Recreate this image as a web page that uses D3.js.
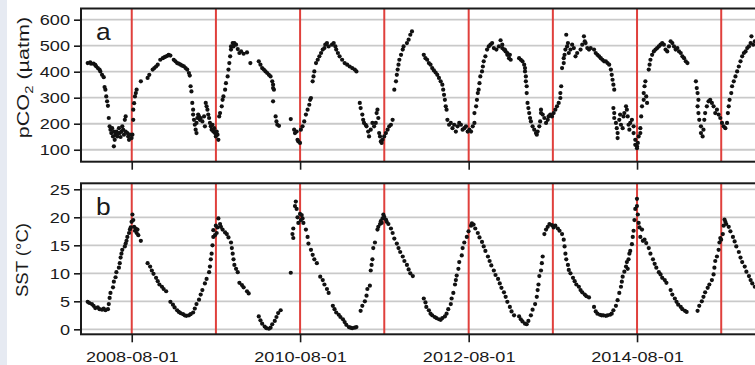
<!DOCTYPE html>
<html>
<head>
<meta charset="utf-8">
<script src="https://cdn.jsdelivr.net/npm/d3@7"></script>
<style>
  body { margin: 0; background: #fff; }
  text { font-family: "Liberation Sans", Arial, sans-serif; fill: #1a1a1a; }
</style>
</head>
<body>
<svg id="chart" width="755" height="365"></svg>
<script>
// pCO2 (µatm) samples: [decimal year, value]
const pco2 = [
  [2008.06,433],[2008.09,436],[2008.10,431],[2008.13,431],[2008.15,426],[2008.16,421],[2008.18,414],[2008.20,408],
  [2008.21,401],[2008.23,388],[2008.25,379],[2008.26,341],[2008.27,331],[2008.28,305],[2008.29,286],[2008.30,269],
  [2008.31,222],[2008.32,190],[2008.33,177],[2008.34,164],[2008.35,183],[2008.36,151],[2008.37,113],[2008.37,170],
  [2008.38,138],[2008.39,158],[2008.40,170],[2008.41,151],[2008.42,164],[2008.43,183],[2008.44,164],[2008.45,149],
  [2008.46,170],[2008.47,190],[2008.48,177],[2008.49,158],[2008.50,215],[2008.51,228],[2008.51,170],[2008.53,164],
  [2008.54,151],[2008.55,138],[2008.56,158],[2008.58,145],[2008.59,158],[2008.60,215],[2008.60,254],[2008.61,279],
  [2008.62,305],[2008.63,318],[2008.64,331],[2008.69,363],[2008.77,376],[2008.79,388],[2008.83,408],[2008.85,414],
  [2008.87,420],[2008.89,427],[2008.92,446],[2008.95,452],[2008.97,456],[2008.99,459],[2009.01,462],[2009.02,465],
  [2009.04,462],[2009.08,446],[2009.10,440],[2009.12,433],[2009.14,431],[2009.16,427],[2009.18,423],[2009.20,421],
  [2009.22,414],[2009.24,408],[2009.26,395],[2009.27,385],[2009.28,344],[2009.29,324],[2009.30,280],[2009.31,254],
  [2009.31,235],[2009.32,215],[2009.33,196],[2009.34,177],[2009.35,164],[2009.35,203],[2009.36,222],[2009.37,235],
  [2009.38,228],[2009.39,215],[2009.40,222],[2009.42,209],[2009.44,228],[2009.45,190],[2009.46,280],[2009.47,267],
  [2009.48,254],[2009.49,235],[2009.50,222],[2009.51,203],[2009.52,190],[2009.53,177],[2009.54,196],[2009.55,170],
  [2009.56,183],[2009.57,164],[2009.58,151],[2009.59,170],[2009.60,158],[2009.61,138],[2009.62,228],[2009.63,241],
  [2009.65,267],[2009.66,292],[2009.67,305],[2009.69,331],[2009.70,356],[2009.72,382],[2009.73,408],[2009.74,433],
  [2009.75,459],[2009.76,485],[2009.76,497],[2009.78,510],[2009.79,497],[2009.80,510],[2009.82,504],[2009.84,487],
  [2009.86,472],[2009.88,478],[2009.91,469],[2009.95,474],[2009.99,433],
  [2010.09,440],[2010.11,427],[2010.13,414],[2010.15,408],[2010.17,401],[2010.19,395],[2010.21,388],[2010.23,382],
  [2010.25,363],[2010.26,350],[2010.26,337],[2010.27,331],[2010.26,286],[2010.29,228],[2010.30,209],[2010.31,196],
  [2010.33,192],[2010.47,218],[2010.51,177],[2010.52,164],[2010.54,170],[2010.55,138],[2010.56,132],[2010.58,126],
  [2010.59,177],[2010.61,190],[2010.63,209],[2010.65,235],[2010.67,254],[2010.69,273],[2010.70,292],[2010.71,299],
  [2010.73,363],[2010.74,382],[2010.75,401],[2010.77,433],[2010.79,446],[2010.81,459],[2010.83,472],[2010.85,485],
  [2010.87,491],[2010.88,504],[2010.90,510],[2010.92,497],[2010.96,504],[2010.98,510],[2011.00,497],[2011.01,485],
  [2011.03,472],[2011.05,459],[2011.08,446],[2011.11,433],[2011.14,427],[2011.17,420],[2011.20,414],[2011.23,408],
  [2011.25,401],[2011.29,280],[2011.30,260],[2011.32,235],[2011.33,215],[2011.34,203],[2011.36,196],[2011.37,190],
  [2011.39,170],[2011.40,151],[2011.42,177],[2011.44,203],[2011.46,190],[2011.48,203],[2011.49,241],[2011.50,254],
  [2011.51,222],[2011.52,164],[2011.53,151],[2011.54,132],[2011.55,126],[2011.56,138],[2011.58,151],[2011.60,164],
  [2011.62,177],[2011.64,190],[2011.66,196],[2011.68,215],[2011.70,331],[2011.72,363],[2011.73,388],[2011.74,408],
  [2011.75,427],[2011.76,446],[2011.78,465],[2011.80,485],[2011.81,497],[2011.85,510],[2011.87,523],[2011.89,542],
  [2011.91,555],
  [2012.05,465],[2012.07,452],[2012.09,446],[2012.11,433],[2012.13,427],[2012.15,414],[2012.17,405],[2012.19,397],
  [2012.21,388],[2012.23,376],[2012.25,363],[2012.27,350],[2012.28,331],[2012.29,311],[2012.30,292],[2012.31,267],
  [2012.32,254],[2012.33,215],[2012.35,196],[2012.37,203],[2012.39,183],[2012.41,196],[2012.43,170],[2012.45,190],
  [2012.47,203],[2012.49,196],[2012.51,177],[2012.53,183],[2012.55,190],[2012.57,170],[2012.59,177],[2012.61,170],
  [2012.63,190],[2012.65,203],[2012.65,241],[2012.67,267],[2012.68,292],[2012.69,318],[2012.70,331],[2012.71,356],
  [2012.72,382],[2012.74,401],[2012.75,420],[2012.76,440],[2012.78,459],[2012.80,485],[2012.82,497],[2012.84,504],
  [2012.86,510],[2012.88,491],[2012.91,485],[2012.94,497],[2012.96,521],[2012.98,491],[2012.98,504],[2013.00,485],
  [2013.01,485],[2013.02,478],[2013.04,472],[2013.04,465],[2013.06,452],[2013.07,465],[2013.08,446],
  [2013.18,452],[2013.20,446],[2013.22,440],[2013.24,427],[2013.25,414],[2013.25,401],[2013.26,382],[2013.26,363],
  [2013.27,344],[2013.27,318],[2013.28,280],[2013.29,260],[2013.30,241],[2013.31,222],[2013.32,209],[2013.34,190],
  [2013.36,177],[2013.38,164],[2013.39,158],[2013.40,170],[2013.42,190],[2013.43,209],[2013.44,241],[2013.44,254],
  [2013.46,235],[2013.48,222],[2013.50,203],[2013.52,215],[2013.53,228],[2013.55,235],[2013.57,228],[2013.59,241],
  [2013.61,254],[2013.63,267],[2013.65,280],[2013.67,299],[2013.67,318],[2013.68,344],[2013.69,414],[2013.71,433],
  [2013.71,452],[2013.72,465],[2013.73,485],[2013.74,542],[2013.75,497],[2013.76,510],[2013.77,472],[2013.79,485],
  [2013.81,504],[2013.83,491],[2013.85,459],[2013.87,472],[2013.91,485],[2013.93,504],[2013.95,536],[2013.96,517],
  [2013.97,510],[2013.99,491],[2014.01,485],[2014.03,491],[2014.07,485],[2014.09,472],[2014.11,465],[2014.13,459],
  [2014.15,452],[2014.17,446],[2014.19,440],[2014.21,440],[2014.23,433],[2014.25,427],[2014.27,408],[2014.28,388],
  [2014.29,369],[2014.30,350],[2014.31,331],[2014.30,260],[2014.31,241],[2014.31,222],[2014.33,203],[2014.34,183],
  [2014.35,164],[2014.35,145],[2014.37,215],[2014.38,235],[2014.39,196],[2014.41,183],[2014.42,228],[2014.43,241],
  [2014.45,267],[2014.46,254],[2014.47,228],[2014.48,196],[2014.49,177],[2014.50,203],[2014.52,215],[2014.54,190],
  [2014.54,164],[2014.56,138],[2014.56,119],[2014.58,106],[2014.58,113],[2014.59,126],[2014.60,151],[2014.62,164],
  [2014.62,183],[2014.63,228],[2014.64,267],[2014.66,292],[2014.66,318],[2014.67,344],[2014.68,363],[2014.69,305],
  [2014.70,280],[2014.72,408],[2014.73,427],[2014.74,446],[2014.76,465],[2014.78,478],[2014.80,485],[2014.82,491],
  [2014.84,497],[2014.86,504],[2014.88,510],[2014.90,504],[2014.92,485],[2014.94,478],[2014.96,497],[2014.98,517],
  [2015.00,510],[2015.02,497],[2015.04,485],[2015.06,491],[2015.08,478],[2015.10,472],[2015.12,459],[2015.14,452],
  [2015.16,440],[2015.18,433],
  [2015.28,363],[2015.29,337],[2015.30,318],[2015.31,292],[2015.30,267],[2015.31,241],[2015.32,215],[2015.34,190],
  [2015.34,164],[2015.36,151],[2015.37,177],[2015.38,215],[2015.39,241],[2015.41,267],[2015.43,286],[2015.45,292],
  [2015.47,280],[2015.49,267],[2015.51,241],[2015.53,254],[2015.55,235],[2015.57,222],[2015.59,203],[2015.61,190],
  [2015.63,183],[2015.65,203],[2015.66,241],[2015.67,267],[2015.68,292],[2015.70,318],[2015.71,344],[2015.73,363],
  [2015.75,382],[2015.77,401],[2015.79,420],[2015.81,440],[2015.83,459],[2015.85,472],[2015.87,478],[2015.89,491],
  [2015.91,497],[2015.93,510],[2015.94,536],[2015.96,504],[2015.98,517]
];

// SST (°C) samples: [decimal year, value]
const sst = [
  [2008.06,4.9],[2008.08,4.7],[2008.11,4.5],[2008.13,4.2],[2008.15,3.8],[2008.18,3.9],[2008.20,3.6],[2008.23,3.5],
  [2008.25,3.7],[2008.27,3.4],[2008.30,3.6],[2008.31,4.5],[2008.32,5.6],[2008.33,6.5],[2008.36,7.5],[2008.37,8.5],
  [2008.39,9.3],[2008.40,10.2],[2008.43,11.0],[2008.44,11.8],[2008.45,12.8],[2008.46,13.5],[2008.47,14.2],[2008.50,14.8],
  [2008.51,15.3],[2008.52,15.8],[2008.53,16.5],[2008.55,17.2],[2008.56,17.8],[2008.57,18.2],[2008.58,19.2],[2008.59,20.5],
  [2008.60,19.5],[2008.61,18.3],[2008.62,17.6],[2008.63,18.0],[2008.64,17.2],[2008.65,17.8],[2008.66,16.8],[2008.69,15.8],
  [2008.77,11.8],[2008.80,11.2],[2008.82,10.5],[2008.84,9.9],[2008.87,9.2],[2008.89,8.6],[2008.91,8.0],[2008.94,7.6],
  [2008.96,7.2],[2008.99,6.8],
  [2009.04,4.9],[2009.07,4.4],[2009.09,3.9],[2009.12,3.4],[2009.14,3.1],[2009.16,2.9],[2009.19,2.7],[2009.21,2.5],
  [2009.23,2.4],[2009.26,2.5],[2009.28,2.7],[2009.31,3.0],[2009.33,3.7],[2009.35,4.5],[2009.38,5.3],[2009.40,6.2],
  [2009.42,7.0],[2009.45,8.2],[2009.47,9.0],[2009.50,10.2],[2009.51,11.2],[2009.52,12.5],[2009.53,13.5],[2009.54,15.0],
  [2009.55,16.5],[2009.55,17.7],[2009.57,16.8],[2009.58,18.5],[2009.59,17.2],[2009.60,18.2],[2009.61,19.8],[2009.63,18.8],
  [2009.64,18.3],[2009.66,17.8],[2009.69,17.3],[2009.71,17.0],[2009.73,16.4],[2009.76,15.5],[2009.77,14.5],[2009.78,13.5],
  [2009.79,12.5],[2009.80,11.5],[2009.82,10.8],[2009.84,10.2],
  [2009.86,8.3],[2009.89,7.9],[2009.91,7.5],[2009.95,6.8],[2009.97,6.4],
  [2010.09,2.3],[2010.11,1.6],[2010.13,1.0],[2010.16,0.5],[2010.18,0.2],[2010.21,0.1],[2010.23,0.3],[2010.25,0.9],
  [2010.28,1.5],[2010.30,2.2],[2010.32,2.9],[2010.35,3.4],
  [2010.47,10.1],[2010.49,17.0],[2010.50,16.3],[2010.50,18.0],[2010.52,22.0],[2010.53,22.8],[2010.54,21.5],[2010.55,20.0],
  [2010.56,19.0],[2010.58,20.6],[2010.59,19.5],[2010.60,20.4],[2010.61,19.8],[2010.62,19.0],[2010.65,17.8],[2010.67,16.5],
  [2010.68,15.3],[2010.71,14.2],[2010.73,13.3],[2010.75,12.5],[2010.78,11.8],
  [2010.82,9.4],[2010.85,8.8],[2010.87,8.0],[2010.90,7.2],[2010.92,6.5],
  [2010.97,4.2],[2010.99,3.6],[2011.01,3.0],[2011.04,2.6],[2011.06,2.2],[2011.09,1.8],[2011.11,1.3],[2011.13,0.8],
  [2011.16,0.4],[2011.18,0.3],[2011.20,0.2],[2011.23,0.3],[2011.25,0.4],
  [2011.30,3.3],[2011.32,4.2],[2011.35,5.0],[2011.37,6.0],[2011.38,7.2],[2011.41,7.8],[2011.42,10.5],[2011.43,11.5],
  [2011.44,12.5],[2011.45,14.5],[2011.47,15.5],
  [2011.50,17.8],[2011.51,18.3],[2011.53,18.8],[2011.54,19.3],[2011.55,19.0],[2011.56,19.8],[2011.57,20.5],[2011.58,20.1],
  [2011.60,19.6],[2011.61,19.2],[2011.63,18.8],[2011.66,18.0],[2011.68,17.2],[2011.70,16.2],[2011.73,15.3],[2011.75,14.5],
  [2011.77,13.8],[2011.80,13.0],[2011.82,12.2],[2011.85,11.5],[2011.87,10.7],[2011.89,10.0],[2011.92,9.5],
  [2012.05,5.5],[2012.07,4.8],[2012.08,4.0],[2012.11,3.4],[2012.13,2.8],[2012.15,2.5],[2012.18,2.2],[2012.20,2.0],
  [2012.23,1.8],[2012.25,1.7],[2012.27,2.0],[2012.30,2.3],[2012.32,2.8],[2012.34,3.6],[2012.37,4.5],[2012.38,5.5],
  [2012.40,6.5],[2012.42,8.0],[2012.43,8.8],[2012.44,9.6],[2012.46,10.8],[2012.47,12.0],[2012.50,13.2],[2012.51,14.5],
  [2012.53,15.5],[2012.56,16.5],[2012.58,17.5],[2012.61,18.5],[2012.62,18.9],[2012.64,18.7],[2012.66,18.0],[2012.69,17.2],
  [2012.71,16.4],[2012.74,15.6],[2012.76,14.8],[2012.78,14.0],[2012.81,13.0],[2012.83,12.2],[2012.85,11.4],[2012.88,10.5],
  [2012.90,9.7],[2012.93,9.0],[2012.95,8.2],[2012.97,7.4],[2013.00,6.6],[2013.02,5.8],[2013.04,4.9],[2013.07,4.0],
  [2013.09,3.2],[2013.12,2.5],
  [2013.18,2.3],[2013.20,1.8],[2013.22,1.4],[2013.25,1.0],[2013.27,0.9],[2013.29,1.5],[2013.32,2.5],[2013.34,3.5],
  [2013.37,4.5],[2013.39,5.8],[2013.40,7.0],[2013.41,8.0],[2013.42,9.5],[2013.44,10.5],[2013.45,11.8],[2013.46,13.0],
  [2013.48,17.0],[2013.50,17.8],[2013.52,18.3],[2013.54,18.8],[2013.57,18.6],[2013.59,18.2],[2013.61,18.5],[2013.64,18.0],
  [2013.66,17.6],[2013.69,17.0],[2013.71,16.0],[2013.72,14.8],[2013.73,13.5],[2013.74,12.5],[2013.76,11.5],[2013.77,10.6],
  [2013.79,10.0],[2013.82,9.2],[2013.84,8.6],[2013.86,8.0],[2013.89,7.6],[2013.91,7.0],[2013.93,6.6],[2013.96,6.2],
  [2013.98,5.9],[2014.01,5.7],
  [2014.07,4.0],[2014.09,3.2],[2014.11,2.8],[2014.14,2.6],[2014.16,2.5],[2014.18,2.5],[2014.21,2.4],[2014.23,2.5],
  [2014.26,2.6],[2014.28,2.8],[2014.30,3.4],[2014.33,4.2],[2014.35,5.2],[2014.37,6.5],[2014.39,7.6],[2014.40,8.5],
  [2014.41,9.4],[2014.43,10.3],[2014.45,11.2],[2014.46,12.0],[2014.47,10.8],[2014.48,12.5],[2014.49,13.5],[2014.50,14.0],
  [2014.52,15.2],[2014.53,16.5],[2014.54,17.6],[2014.55,19.5],[2014.56,21.5],[2014.58,23.3],[2014.58,22.0],[2014.59,20.5],
  [2014.60,19.0],[2014.61,18.2],[2014.62,16.5],[2014.64,17.8],[2014.65,15.8],[2014.67,16.0],[2014.69,15.4],[2014.72,14.5],
  [2014.74,13.5],[2014.77,12.5],[2014.79,11.7],[2014.81,11.0],[2014.84,10.2],[2014.86,9.8],[2014.88,9.2],[2014.91,8.8],
  [2014.93,8.3],
  [2014.98,7.0],[2015.00,6.2],[2015.03,5.5],[2015.05,4.9],[2015.07,4.4],[2015.10,4.0],[2015.12,3.6],[2015.15,3.3],
  [2015.17,3.1],
  [2015.30,3.3],[2015.32,4.2],[2015.35,5.0],[2015.37,5.8],[2015.39,6.6],[2015.42,7.4],[2015.44,8.0],[2015.47,8.8],
  [2015.49,9.8],[2015.50,11.0],[2015.51,12.2],[2015.53,13.0],[2015.55,14.2],[2015.56,15.5],[2015.57,16.3],[2015.58,16.0],
  [2015.60,17.0],[2015.61,18.5],[2015.62,19.6],[2015.63,19.2],[2015.64,18.8],[2015.67,18.3],[2015.69,17.5],[2015.72,16.5],
  [2015.74,15.7],[2015.76,14.8],[2015.79,13.8],[2015.81,12.8],[2015.83,12.0],[2015.86,11.2],[2015.88,10.3],[2015.91,9.5],
  [2015.93,8.8],[2015.95,8.2],[2015.98,7.6]
];

const redLineDates = ["2008-08-01","2009-08-01","2010-08-01","2011-08-01","2012-08-01","2013-08-01","2014-08-01","2015-08-01"];
const dateTicks = ["2008-08-01","2010-08-01","2012-08-01","2014-08-01"];
const pco2Ticks = [100, 200, 300, 400, 500, 600];
const sstTicks = [0, 5, 10, 15, 20, 25];

// decimal year -> Date
function toDate(y) {
  const yr = Math.floor(y);
  const a = Date.UTC(yr, 0, 1), b = Date.UTC(yr + 1, 0, 1);
  return new Date(a + (y - yr) * (b - a));
}
const parse = d3.utcParse("%Y-%m-%d");

const svg = d3.select("#chart");

// light strip on the left edge
svg.append("rect").attr("x", 0).attr("y", 0).attr("width", 7).attr("height", 365).attr("fill", "#e6eaf2");

const left = 81, right = 756.5;
const x = d3.scaleUtc()
  .domain([Date.UTC(2007, 11, 25), Date.UTC(2016, 0, 1)])
  .range([left, right]);

const panels = [
  { tag: "a", data: pco2, ticks: pco2Ticks, domain: [54, 643], top: 8.5, bottom: 161.7,
    label: ["pCO", "2", " (µatm)"], labelX: 29, labelY: 77.5, labelScale: 1.35, labels: false },
  { tag: "b", data: sst, ticks: sstTicks, domain: [-0.89, 26.07], top: 183.3, bottom: 334.3,
    label: ["SST (°C)"], labelX: 28, labelY: 260, labelScale: 1.16, labels: true }
];

const sx = 1.17; // horizontal stretch of the tick text

panels.forEach((p, i) => {
  const y = d3.scaleLinear().domain(p.domain).range([p.bottom, p.top]);
  const g = svg.append("g");

  g.append("clipPath").attr("id", "clip" + i)
    .append("rect").attr("x", left).attr("y", p.top).attr("width", right - left).attr("height", p.bottom - p.top);

  // grid
  g.selectAll(".grid").data(p.ticks).enter().append("line")
    .attr("x1", left).attr("x2", right)
    .attr("y1", d => y(d)).attr("y2", d => y(d))
    .attr("stroke", "#c9c9c9").attr("stroke-width", 1.8);

  // red reference lines
  g.selectAll(".ref").data(redLineDates).enter().append("line")
    .attr("x1", d => x(parse(d))).attr("x2", d => x(parse(d)))
    .attr("y1", p.top).attr("y2", p.bottom)
    .attr("stroke", "#e0403c").attr("stroke-width", 2);

  // points
  g.append("g").attr("clip-path", `url(#clip${i})`)
    .selectAll("circle").data(p.data).enter().append("circle")
    .attr("cx", d => x(toDate(d[0])))
    .attr("cy", d => y(d[1]))
    .attr("r", 2.1)
    .attr("fill", "#111");

  // frame
  g.append("rect").attr("x", left).attr("y", p.top)
    .attr("width", right - left).attr("height", p.bottom - p.top)
    .attr("fill", "none").attr("stroke", "#1a1a1a").attr("stroke-width", 2);

  // y axis
  const ya = g.append("g").attr("transform", `translate(${left},0)`)
    .call(d3.axisLeft(y).tickValues(p.ticks).tickSize(7).tickPadding(4));
  ya.select(".domain").remove();
  ya.selectAll(".tick line").attr("stroke", "#1a1a1a").attr("stroke-width", 1.6);
  ya.selectAll(".tick text")
    .attr("font-size", 15.5).attr("font-family", "Liberation Sans, Arial, sans-serif")
    .attr("fill", "#1a1a1a")
    .attr("x", -11 / sx).attr("transform", `scale(${sx},1)`);

  // x axis
  const xa = g.append("g").attr("transform", `translate(0,${p.bottom})`)
    .call(d3.axisBottom(x).tickValues(dateTicks.map(parse)).tickSize(8).tickPadding(8.4)
      .tickFormat(p.labels ? d3.utcFormat("%Y-%m-%d") : () => ""));
  xa.select(".domain").remove();
  xa.selectAll(".tick line").attr("stroke", "#1a1a1a").attr("stroke-width", 1.6);
  xa.selectAll(".tick text")
    .attr("font-size", 15.5).attr("font-family", "Liberation Sans, Arial, sans-serif")
    .attr("fill", "#1a1a1a")
    .attr("transform", `scale(${sx},1)`);

  // panel letter
  g.append("text")
    .attr("transform", `translate(96,${p.top + 31.5}) scale(1.1,1)`)
    .attr("font-size", 24)
    .text(p.tag);

  // y label
  const lab = g.append("text")
    .attr("transform", `translate(${p.labelX},${p.labelY}) rotate(-90) scale(${p.labelScale},1)`)
    .attr("text-anchor", "middle")
    .attr("font-size", 16);
  if (p.label.length === 3) {
    lab.append("tspan").text(p.label[0]);
    lab.append("tspan").attr("font-size", 11).attr("dy", 4).text(p.label[1]);
    lab.append("tspan").attr("dy", -4).text(p.label[2]);
  } else {
    lab.text(p.label[0]);
  }
});
</script>
</body>
</html>
